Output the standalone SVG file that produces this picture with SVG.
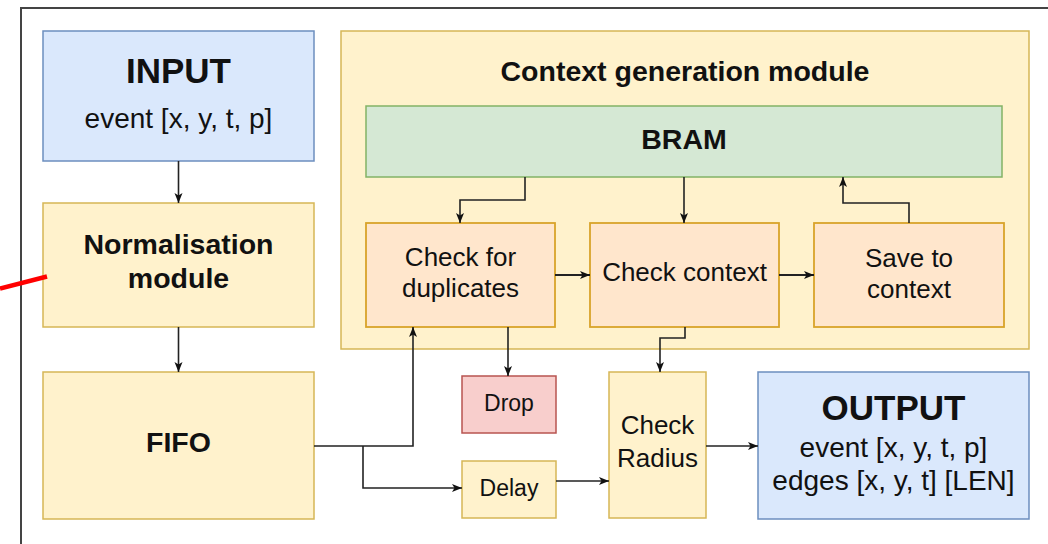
<svg xmlns="http://www.w3.org/2000/svg" width="1048" height="544" viewBox="0 0 1048 544">
<style>
.t{font-family:"Liberation Sans",Arial,Helvetica,sans-serif;fill:#111;text-anchor:middle}
.b{font-weight:bold}
.blue{fill:#dae8fc;stroke:#6c8ebf;stroke-width:1.5}
.yel{fill:#fff2cc;stroke:#d6b656;stroke-width:1.5}
.grn{fill:#d5e8d4;stroke:#82b366;stroke-width:1.5}
.org{fill:#ffe6cc;stroke:#d9a32a;stroke-width:1.8}
.red{fill:#f8cecc;stroke:#b85450;stroke-width:1.5}
.c{fill:none;stroke:#222;stroke-width:1.6;marker-end:url(#ah)}
</style>
<defs>
<marker id="ah" viewBox="0 0 10 10" refX="10" refY="5" markerWidth="10" markerHeight="10" markerUnits="userSpaceOnUse" orient="auto">
<path d="M0,1 L10,5 L0,9 L2.5,5 z" fill="#111"/>
</marker>
</defs>
<rect width="1048" height="544" fill="#fff"/>
<g id="frame" fill="none" stroke="#444" stroke-width="2">
<path d="M21,544 V8 H1048"/>
</g>
<g id="context-module">
<rect class="yel" x="341" y="31" width="688" height="318"/>
<text class="t b" x="685" y="81" font-size="28.5">Context generation module</text>
</g>
<g id="input">
<rect class="blue" x="43" y="31" width="271" height="130"/>
<text class="t b" x="178.5" y="83" font-size="35">INPUT</text>
<text class="t" x="178.5" y="128" font-size="28">event [x, y, t, p]</text>
</g>
<g id="normalisation">
<rect class="yel" x="43" y="203" width="271" height="124"/>
<text class="t b" x="178.5" y="254" font-size="28.5">Normalisation</text>
<text class="t b" x="178.5" y="288" font-size="28.5">module</text>
</g>
<g id="fifo">
<rect class="yel" x="43" y="372" width="271" height="147"/>
<text class="t b" x="178.5" y="452" font-size="28.5">FIFO</text>
</g>
<g id="bram">
<rect class="grn" x="366" y="106" width="636" height="71"/>
<text class="t b" x="684" y="149" font-size="28.5">BRAM</text>
</g>
<g id="check-duplicates">
<rect class="org" x="366" y="223" width="189" height="104"/>
<text class="t" x="460.5" y="266" font-size="26">Check for</text>
<text class="t" x="460.5" y="297" font-size="26">duplicates</text>
</g>
<g id="check-context">
<rect class="org" x="590" y="223" width="189" height="104"/>
<text class="t" x="684.5" y="281" font-size="26">Check context</text>
</g>
<g id="save-context">
<rect class="org" x="814" y="223" width="190" height="104"/>
<text class="t" x="909" y="267" font-size="26">Save to</text>
<text class="t" x="909" y="298" font-size="26">context</text>
</g>
<g id="drop">
<rect class="red" x="462" y="376" width="94" height="57"/>
<text class="t" x="509" y="411" font-size="23">Drop</text>
</g>
<g id="delay">
<rect class="yel" x="462" y="461" width="94" height="57"/>
<text class="t" x="509" y="496" font-size="23">Delay</text>
</g>
<g id="check-radius">
<rect class="yel" x="609" y="372" width="97" height="146"/>
<text class="t" x="657.5" y="434" font-size="26">Check</text>
<text class="t" x="657.5" y="467" font-size="26">Radius</text>
</g>
<g id="output">
<rect class="blue" x="758" y="372" width="271" height="147"/>
<text class="t b" x="893.5" y="420" font-size="35">OUTPUT</text>
<text class="t" x="893.5" y="457" font-size="28">event [x, y, t, p]</text>
<text class="t" x="893.5" y="490" font-size="28">edges [x, y, t] [LEN]</text>
</g>
<g id="connectors">
<path class="c" d="M178.5,161 V203"/>
<path class="c" d="M178.5,327 V372"/>
<path class="c" d="M525,177 V200 H460 V223"/>
<path class="c" d="M684,177 V223"/>
<path class="c" d="M909,223 V203 H843 V177"/>
<path class="c" style="stroke-width:2" d="M555,275 H590"/>
<path class="c" style="stroke-width:2" d="M779,275 H814"/>
<path class="c" d="M508,327 V376"/>
<path class="c" d="M685,327 V338 H660 V372"/>
<path class="c" d="M314,446 H413 V327"/>
<path class="c" d="M363,446 V488 H462"/>
<path class="c" d="M556,481 H609"/>
<path class="c" d="M706,446 H758"/>
</g>
<g id="annotation">
<line x1="0" y1="288.5" x2="47" y2="276.5" stroke="#ff0000" stroke-width="4.5"/>
</g>
</svg>
